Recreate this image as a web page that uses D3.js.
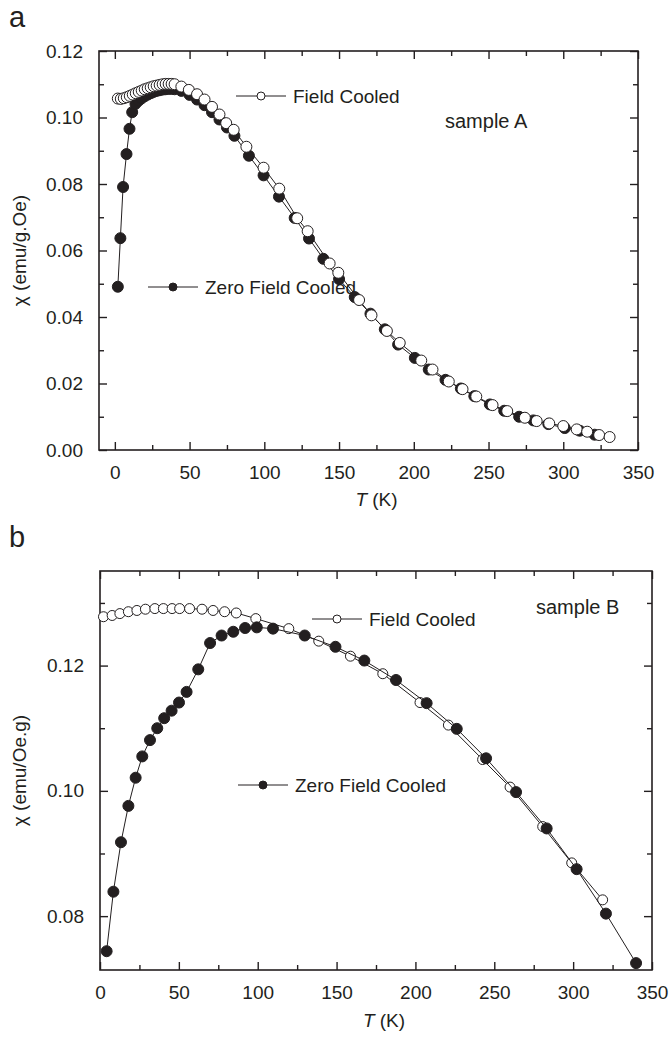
<!DOCTYPE html>
<html>
<head>
<meta charset="utf-8">
<script src="https://cdn.jsdelivr.net/npm/d3@7"></script>
<style>
  body { margin: 0; background: #fff; }
  svg text { font-family: "Liberation Sans", Arial, sans-serif; fill: #231f20; }
</style>
</head>
<body>
<svg id="chart" width="671" height="1042"></svg>
<script>
// ---- sample A (panel a) ----
const tA_fc = [2, 4, 6, 8, 10, 12, 14, 16, 18, 20, 22, 24, 26, 28, 30, 32, 34, 36, 38, 40,
  44.5, 49.5, 55, 60, 65, 70, 74.5, 79.5, 88, 99.5, 110, 122, 129, 143.7, 149.5, 163.4, 171.7,
  182, 190.6, 205, 212.5, 223.4, 232.6, 241.8, 252.7, 262.5, 274.3, 282.2, 290.6, 300, 309, 316, 324, 331]
const chiA_fc = [0.1057, 0.1056, 0.1058, 0.1061, 0.1065, 0.1069, 0.1073, 0.1077, 0.1081, 0.1085,
  0.1088, 0.1091, 0.1094, 0.1096, 0.1098, 0.1100, 0.1101, 0.1101, 0.1101, 0.1100,
  0.1093, 0.1083, 0.1070, 0.1054, 0.1032, 0.1009, 0.0983, 0.0963, 0.0912, 0.0849, 0.0786, 0.0697,
  0.0658, 0.0561, 0.0533, 0.0451, 0.0405, 0.0358, 0.0322, 0.0269, 0.0242, 0.0206, 0.0183, 0.0161,
  0.0135, 0.0117, 0.0097, 0.0087, 0.0080, 0.0072, 0.0062, 0.0055, 0.0045, 0.0039]

const tA_zfc = [2, 3.7, 5.5, 7.8, 9.8, 11.6, 13.8, 16, 18, 20, 22, 24, 26, 28, 30, 32, 34, 36, 38, 40,
  44.5, 50, 55, 60, 65, 70, 75, 80, 89.7, 99.5, 109.8, 120.3, 129.9, 139.5, 150, 160.5, 171, 180.6,
  189.5, 200.7, 210, 221.2, 231.5, 240.5, 250.9, 260.5, 270.5, 280, 290, 301, 311, 321]
const chiA_zfc = [0.0491, 0.0637, 0.0791, 0.0890, 0.0966, 0.1016, 0.1041, 0.1051, 0.1058, 0.1064,
  0.1069, 0.1073, 0.1077, 0.1080, 0.1082, 0.1084, 0.1085, 0.1086, 0.1086, 0.1085,
  0.1080, 0.1068, 0.1054, 0.1037, 0.1016, 0.0994, 0.0970, 0.0945, 0.0885, 0.0826, 0.0762, 0.0698,
  0.0636, 0.0575, 0.0514, 0.0460, 0.0410, 0.0363, 0.0317, 0.0277, 0.0242, 0.0211, 0.0185, 0.0162,
  0.0137, 0.0118, 0.0100, 0.0089, 0.0078, 0.0066, 0.0058, 0.0046]

// ---- sample B (panel b) ----
const tB_fc = [2.2, 7.7, 12.6, 18, 23.4, 28.8, 34.8, 40.2, 45.7, 50.5, 56.8, 64.7, 71.7, 79, 86.4,
  98.8, 119.7, 138.7, 158.8, 179.3, 202.9, 220.9, 242.6, 260, 280.7, 299.1, 318.7]
const chiB_fc = [0.1278, 0.1280, 0.1283, 0.1286, 0.1288, 0.1290, 0.1291, 0.1291, 0.1291, 0.1291,
  0.1291, 0.1290, 0.1288, 0.1286, 0.1284, 0.1275, 0.1259, 0.1239, 0.1215, 0.1187, 0.1141, 0.1105,
  0.1050, 0.1006, 0.0943, 0.0885, 0.0826]

const tB_zfc = [4.2, 8.5, 13.3, 18, 22.6, 26.8, 31.7, 36.3, 40.7, 45.4, 50.1, 54.9, 62.3, 69.8, 77.1,
  84.5, 92, 99.4, 109.7, 129.8, 149.3, 167.6, 187.7, 207.1, 226.2, 244.8, 263.8, 283.2, 302.2, 320.8, 339.9]
const chiB_zfc = [0.0744, 0.0839, 0.0918, 0.0976, 0.1021, 0.1055, 0.1081, 0.1100, 0.1116, 0.1128,
  0.1141, 0.1158, 0.1194, 0.1236, 0.1248, 0.1254, 0.1260, 0.1261, 0.1259, 0.1248, 0.1230, 0.1208,
  0.1177, 0.1140, 0.1099, 0.1052, 0.0998, 0.0940, 0.0875, 0.0804, 0.0725]

// ticks
const xMajor = [0, 50, 100, 150, 200, 250, 300, 350]
const xMinor = [25, 75, 125, 175, 225, 275, 325]
const yMajorA = [0, 0.02, 0.04, 0.06, 0.08, 0.10, 0.12]
const yMinorA = [0.01, 0.03, 0.05, 0.07, 0.09, 0.11]
const yMajorB = [0.08, 0.10, 0.12]
const yMinorB = [0.09, 0.11, 0.13]

const ink = "#231f20"
const svg = d3.select("#chart")

function panel(o) {
  const x = d3.scaleLinear().domain(o.xDomain).range([o.left, o.right])
  const y = d3.scaleLinear().domain(o.yDomain).range([o.bottom, o.top])
  const g = svg.append("g")

  // inward ticks on all four sides
  const sides = [
    [d3.axisBottom, x, o.xMajor, o.xMinor, `translate(0,${o.bottom})`, true],
    [d3.axisTop, x, o.xMajor, o.xMinor, `translate(0,${o.top})`, false],
    [d3.axisLeft, y, o.yMajor, o.yMinor, `translate(${o.left},0)`, true],
    [d3.axisRight, y, o.yMajor, o.yMinor, `translate(${o.right},0)`, false]
  ]
  sides.forEach(([axis, sc, major, minor, tr, labels]) => {
    const isX = sc === x
    const fmt = isX ? d3.format("d") : d3.format(".2f")
    const a = g.append("g").attr("transform", tr)
      .call(axis(sc).tickValues(major).tickSize(-8).tickSizeOuter(0).tickPadding(16)
        .tickFormat(labels ? fmt : ""))
    const m = g.append("g").attr("transform", tr)
      .call(axis(sc).tickValues(minor).tickSize(-5).tickSizeOuter(0).tickFormat(""))
    ;[a, m].forEach(s => {
      s.select(".domain").remove()
      s.selectAll("line").attr("stroke", ink).attr("stroke-width", 1.4)
    })
    a.selectAll("text").attr("font-size", 19).attr("fill", ink)
      .style("font-family", '"Liberation Sans", Arial, sans-serif')
  })

  g.append("rect")
    .attr("x", o.left).attr("y", o.top)
    .attr("width", o.right - o.left).attr("height", o.bottom - o.top)
    .attr("fill", "none").attr("stroke", ink).attr("stroke-width", 1.6)

  const line = d3.line().x(d => x(d[0])).y(d => y(d[1]))

  o.series.forEach(s => {
    const pts = d3.zip(s.t, s.chi)
    g.append("path").datum(pts).attr("d", line)
      .attr("fill", "none").attr("stroke", ink).attr("stroke-width", 1)
    g.append("g").selectAll("circle").data(pts).join("circle")
      .attr("cx", d => x(d[0])).attr("cy", d => y(d[1])).attr("r", s.r)
      .attr("fill", s.filled ? ink : "#fff").attr("stroke", ink).attr("stroke-width", 1)
  })

  // legends
  o.legends.forEach(l => {
    g.append("line").attr("x1", l.x).attr("x2", l.x + 50).attr("y1", l.y).attr("y2", l.y)
      .attr("stroke", ink).attr("stroke-width", 1)
    g.append("circle").attr("cx", l.x + 25).attr("cy", l.y).attr("r", 4)
      .attr("fill", l.filled ? ink : "#fff").attr("stroke", ink).attr("stroke-width", 1)
    g.append("text").attr("x", l.x + 57).attr("y", l.y + 7).attr("font-size", 19).text(l.text)
  })

  g.append("text").attr("x", o.sample[0]).attr("y", o.sample[1]).attr("font-size", 20).text(o.sample[2])

  // axis titles
  const xt = g.append("text").attr("x", (o.left + o.right) / 2 + 8).attr("y", o.bottom + o.titleGap)
    .attr("text-anchor", "middle").attr("font-size", 19)
  xt.append("tspan").attr("font-style", "italic").text("T")
  xt.append("tspan").text(" (K)")
  g.append("text")
    .attr("transform", `translate(26,${(o.top + o.bottom) / 2}) rotate(-90)`)
    .attr("text-anchor", "middle").attr("font-size", 19).text(o.yTitle)

  g.append("text").attr("x", 9).attr("y", o.top - 24).attr("font-size", 29).text(o.tag)
}

panel({
  tag: "a",
  xDomain: [-10.6, 350], yDomain: [0, 0.12],
  left: 99, right: 638, top: 51, bottom: 450,
  xMajor, xMinor, yMajor: yMajorA, yMinor: yMinorA,
  yTitle: "χ (emu/g.Oe)", titleGap: 56,
  series: [
    { t: tA_zfc, chi: chiA_zfc, filled: true, r: 5.5 },
    { t: tA_fc, chi: chiA_fc, filled: false, r: 5.5 }
  ],
  legends: [
    { x: 236, y: 96, filled: false, text: "Field Cooled" },
    { x: 148, y: 287, filled: true, text: "Zero Field Cooled" }
  ],
  sample: [445, 128, "sample A"]
})

panel({
  tag: "b",
  xDomain: [0, 350], yDomain: [0.0714, 0.1351],
  left: 100, right: 652, top: 571, bottom: 970,
  xMajor, xMinor, yMajor: yMajorB, yMinor: yMinorB,
  yTitle: "χ (emu/Oe.g)", titleGap: 57,
  series: [
    { t: tB_fc, chi: chiB_fc, filled: false, r: 5 },
    { t: tB_zfc, chi: chiB_zfc, filled: true, r: 5.5 }
  ],
  legends: [
    { x: 312, y: 619, filled: false, text: "Field Cooled" },
    { x: 238, y: 785, filled: true, text: "Zero Field Cooled" }
  ],
  sample: [536, 614, "sample B"]
})
</script>
</body>
</html>
